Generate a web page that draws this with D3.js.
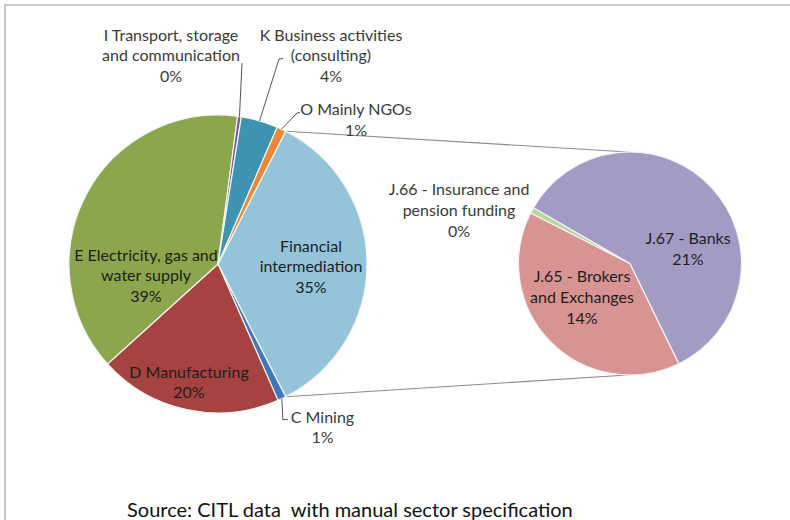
<!DOCTYPE html>
<html>
<head>
<meta charset="utf-8">
<script src="https://cdn.jsdelivr.net/npm/d3@7"></script>
<style>
  html, body { margin: 0; padding: 0; background: #ffffff; }
  svg { display: block; }
</style>
</head>
<body>
<svg id="chart" width="790" height="520"></svg>
<script>
// ---------------- DATA ----------------
const mainCategories = [
  "Financial intermediation",
  "C Mining",
  "D Manufacturing",
  "E Electricity, gas and water supply",
  "I Transport, storage and communication",
  "K Business activities (consulting)",
  "O Mainly NGOs"
];
const mainValues = [35.0, 0.9, 19.9, 38.8, 0.4, 4.0, 1.0];
const mainLabelLines = [
  ["Financial", "intermediation"],
  ["C Mining"],
  ["D Manufacturing"],
  ["E Electricity, gas and", "water supply"],
  ["I Transport, storage", "and communication"],
  ["K Business activities", "(consulting)"],
  ["O Mainly NGOs"]
];

const subCategories = [
  "J.65 - Brokers and Exchanges",
  "J.66 - Insurance and pension funding",
  "J.67 - Banks"
];
const subValues = [13.9, 0.3, 20.8];
const subLabelLines = [
  ["J.65 - Brokers", "and Exchanges"],
  ["J.66 - Insurance and", "pension funding"],
  ["J.67 - Banks"]
];

const sourceNote = "Source: CITL data  with manual sector specification";

// ---------------- STYLE / LAYOUT ----------------
const mainColors = ["#93c4d9", "#3f78b9", "#a6423f", "#8ba64d", "#7b5aa5", "#3d93b0", "#e8883a"];
const subColors = ["#d89493", "#b6d79b", "#a39bc3"];
const FONT = "Lato, 'Open Sans', sans-serif";

const main = { cx: 218, cy: 264, r: 149 };
const sub = { cx: 630, cy: 263.5, r: 111.5 };

// label anchor offsets relative to each pie centre (x centre, first baseline)
const mainLabelPos = [
  { dx: 93, dy: -12.5, inside: true },
  { dx: 104.5, dy: 158.5, inside: false, leader: [[0,0],[1,21],[6,21]] },
  { dx: -29, dy: 113.5, inside: true },
  { dx: -72, dy: -3.5, inside: true },
  { dx: -47, dy: -223.5, inside: false },
  { dx: 113, dy: -223.5, inside: false },
  { dx: 138, dy: -149, inside: false }
];
const subLabelPos = [
  { dx: -48, dy: 18.5, inside: true },
  { dx: -171, dy: -68.5, inside: false },
  { dx: 58, dy: -19.5, inside: true }
];

const svg = d3.select("#chart");

// frame (top and left border of the original picture)
svg.append("line").attr("x1", 5).attr("y1", 5).attr("x2", 790).attr("y2", 5)
  .attr("stroke", "#c9c9c9").attr("stroke-width", 2);
svg.append("line").attr("x1", 5).attr("y1", 4).attr("x2", 5).attr("y2", 520)
  .attr("stroke", "#c9c9c9").attr("stroke-width", 2);

const deg = Math.PI / 180;
// Financial slice (the "other" slice) centred on the 3 o'clock direction
const finAngle = mainValues[0] / d3.sum(mainValues) * 2 * Math.PI;
const mainPie = d3.pie().sort(null).value(d => d)
  .startAngle(Math.PI / 2 - finAngle / 2)
  .endAngle(Math.PI / 2 - finAngle / 2 + 2 * Math.PI);
const mainArcs = mainPie(mainValues);

const subStart = 154 * deg;
const subPie = d3.pie().sort(null).value(d => d)
  .startAngle(subStart).endAngle(subStart + 2 * Math.PI);
const subArcs = subPie(subValues);

function polar(c, r, a) { return [c.cx + r * Math.sin(a), c.cy - r * Math.cos(a)]; }

// connector lines between the pies
const fin = mainArcs[0];
const pTop = polar(main, main.r, fin.startAngle);
const pBot = polar(main, main.r, fin.endAngle);
const conn = svg.append("g").attr("fill", "none").attr("stroke", "#8c8c8c").attr("stroke-width", 1.1);
conn.append("line").attr("x1", pTop[0]).attr("y1", pTop[1]).attr("x2", sub.cx - 2).attr("y2", sub.cy - sub.r);
conn.append("line").attr("x1", pBot[0]).attr("y1", pBot[1]).attr("x2", sub.cx - 2).attr("y2", sub.cy + sub.r);

// main pie
const mainArc = d3.arc().innerRadius(0).outerRadius(main.r);
svg.append("g").attr("transform", `translate(${main.cx},${main.cy})`)
  .selectAll("path").data(mainArcs).join("path")
  .attr("d", mainArc)
  .attr("fill", (d, i) => mainColors[i])
  .attr("stroke", "#f4f4f4").attr("stroke-width", 1.2).attr("stroke-linejoin", "round");

// second pie
const subArc = d3.arc().innerRadius(0).outerRadius(sub.r);
svg.append("g").attr("transform", `translate(${sub.cx},${sub.cy})`)
  .selectAll("path").data(subArcs).join("path")
  .attr("d", subArc)
  .attr("fill", (d, i) => subColors[i])
  .attr("stroke", "#f4f4f4").attr("stroke-width", 1.2).attr("stroke-linejoin", "round");

// leader lines for outside labels of the main pie
const leaders = svg.append("g").attr("fill", "none").attr("stroke", "#555").attr("stroke-width", 1);
const leaderEnds = {
  4: [[242, 63]],
  5: [[279, 59], [283, 58.5]],
  6: [[297, 113], [300, 112.5]]
};
Object.keys(leaderEnds).forEach(k => {
  const a = mainArcs[k];
  const mid = (a.startAngle + a.endAngle) / 2;
  const p0 = polar(main, main.r, mid);
  const pts = [p0].concat(leaderEnds[k]);
  leaders.append("path").attr("d", d3.line()(pts));
});
{
  const a = mainArcs[1];
  const p0 = polar(main, main.r, (a.startAngle + a.endAngle) / 2);
  const pts = mainLabelPos[1].leader.map(q => [p0[0] + q[0], p0[1] + q[1]]);
  leaders.append("path").attr("d", d3.line()(pts));
}

// labels
const LINE = 20.8;
function drawLabel(c, pos, lines, pct, inside, size) {
  const t = svg.append("text")
    .attr("font-family", FONT).attr("font-size", size)
    .attr("fill", inside ? "#1e1e1e" : "#3a3a3a")
    .attr("text-anchor", "middle");
  const all = lines.concat([pct]);
  all.forEach((s, j) => {
    t.append("tspan").attr("x", c.cx + pos.dx).attr("y", c.cy + pos.dy + j * LINE).text(s);
  });
}
mainValues.forEach((v, i) => {
  drawLabel(main, mainLabelPos[i], mainLabelLines[i], Math.round(v) + "%", mainLabelPos[i].inside, 16);
});
subValues.forEach((v, i) => {
  drawLabel(sub, subLabelPos[i], subLabelLines[i], Math.round(v) + "%", subLabelPos[i].inside, 16);
});

// source note
svg.append("text").attr("x", 127).attr("y", 516.5)
  .attr("font-family", FONT).attr("font-size", 20).attr("fill", "#111")
  .style("white-space", "pre")
  .text(sourceNote);
</script>
</body>
</html>
